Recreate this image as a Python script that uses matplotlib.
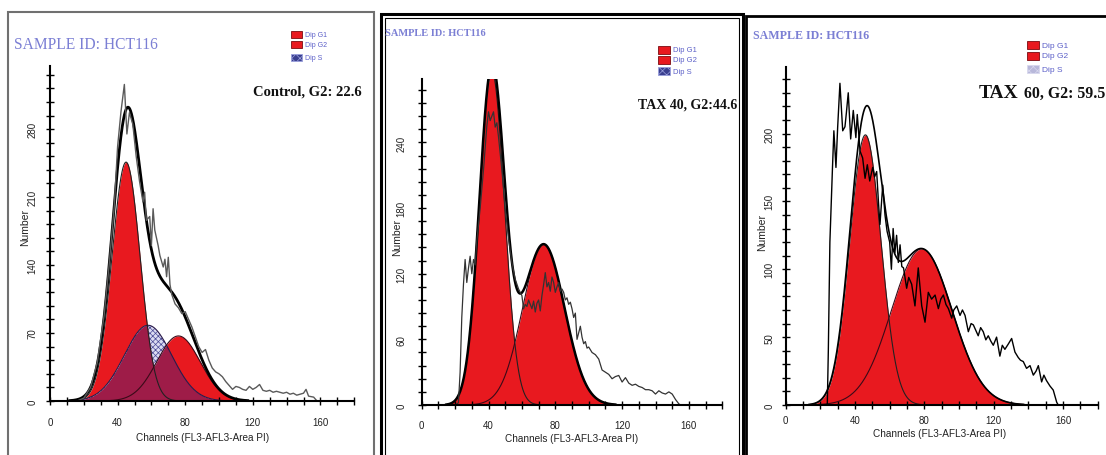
import numpy as np
import matplotlib.pyplot as plt
from matplotlib.patches import Rectangle
from matplotlib.ticker import MultipleLocator

W, H = 1106, 456

sample_id = "SAMPLE ID: HCT116"
legend_labels = ["Dip G1", "Dip G2", "Dip S"]
x_label = "Channels (FL3-AFL3-Area PI)"
y_label = "Number"

# fitted cell-cycle components: (peak channel, peak count, spread in channels)
ctrl_g1 = (45, 246, 8.3)
ctrl_s = (58, 78, 14)
ctrl_g2 = (76, 67, 12.8)
tax40_g1 = (42, 305, 7.5)
tax40_g2 = (73, 147, 12.5)
tax60_g1 = (46, 199, 9)
tax60_g2 = (78.5, 115, 17.5)

# raw PI histograms (channel, count)
ctrl_ch = [16, 20, 24, 28, 32, 35, 38, 40, 42, 44, 45.5, 47, 49, 51, 53, 55, 56, 57, 59, 60,
           61, 62, 64, 65, 67, 68, 69, 70, 71, 72, 74, 76, 78, 80, 82, 84, 86, 88, 90, 92,
           94, 96, 98, 100, 102, 104, 106, 108, 110, 112, 114, 116, 118, 120, 122, 124, 126, 128, 130, 132,
           134, 136, 138, 140, 142, 144, 146, 148, 150, 151.5, 153, 156, 158]
ctrl_n = [0, 3, 14, 40, 88, 140, 200, 262, 298, 326, 275, 297, 285, 252, 226, 205, 215, 186, 190, 160,
          198, 176, 160, 150, 138, 146, 128, 148, 120, 110, 100, 96, 90, 92, 84, 76, 66, 56, 50, 53,
          42, 34, 30, 28, 25, 20, 16, 12, 15, 14, 12, 11, 15, 12, 14, 17, 11, 10, 11, 9,
          10, 9, 8, 9, 7, 8, 6, 7, 8, 12, 5, 4, 0]

tax40_ch = [20, 22, 23, 24, 25, 26, 27, 28, 29, 30, 31, 32, 33, 35, 37, 39, 40, 41, 42, 43,
            44, 45, 46, 48, 50, 52, 54, 56, 58, 60, 61, 62, 63, 64, 65, 66, 67, 68, 69, 70,
            71, 72, 73, 74, 75, 76, 77, 78, 79, 80, 81, 82, 83, 84, 85, 86, 87, 88, 89, 90,
            91, 92, 93, 94, 95, 96, 97, 98, 99, 100, 102, 104, 106, 108, 110, 112, 114, 116, 118, 120,
            122, 124, 126, 128, 130, 132, 134, 136, 138, 140, 142, 144, 146, 148, 150, 152, 154, 155]
tax40_n = [0, 2, 30, 80, 110, 133, 112, 125, 136, 120, 133, 128, 150, 180, 215, 255, 268, 260, 264, 268,
           254, 258, 245, 215, 180, 152, 130, 115, 106, 100, 88, 92, 90, 96, 92, 88, 95, 85, 93, 96,
           86, 100, 110, 121, 108, 112, 104, 117, 112, 103, 108, 112, 104, 106, 103, 96, 98, 92, 94, 88,
           80, 84, 60, 66, 72, 62, 56, 58, 52, 53, 48, 46, 42, 32, 30, 28, 24, 26, 27, 21,
           25, 20, 18, 19, 17, 16, 14, 14, 13, 10, 13, 11, 10, 12, 10, 5, 1, 0]

tax60_ch = [24, 24.6, 25.5, 27, 27.8, 29, 30, 31.3, 32.9, 34.2, 35, 36.1, 37.5, 39, 40.5, 41.3, 42.9, 44.4, 45.8, 47.1,
            48.5, 50.2, 51.3, 52.5, 53.5, 54.4, 56, 57.3, 58.5, 60, 61, 62, 63, 64, 65, 66, 67, 68, 69.8, 71,
            72.7, 74.6, 76.5, 78.5, 80.4, 82.3, 84.2, 86.2, 88.1, 89.5, 91, 92.5, 93.9, 95.8, 97, 98.7, 100.6, 102, 103.5, 105.4,
            107, 108.3, 109.7, 111.1, 112.5, 114, 115.5, 116.9, 118.4, 119.8, 121.7, 123.6, 125, 126.5, 128.5, 130.4, 132.3, 134.2, 135.5, 137.1,
            139, 141, 142.9, 144.5, 145.8, 147.7, 149, 150.5, 152.5, 154.4, 156.4, 157.3]
tax60_n = [0, 40, 120, 175, 202, 175, 205, 237, 202, 205, 215, 230, 196, 217, 197, 214, 187, 182, 167, 177,
           165, 175, 168, 172, 150, 133, 162, 140, 128, 120, 100, 130, 112, 125, 105, 118, 102, 101, 86, 94,
           89, 73, 101, 73, 61, 83, 78, 81, 71, 78, 81, 74, 71, 64, 70, 73, 66, 70, 66, 54,
           60, 59, 55, 51, 57, 54, 48, 51, 47, 44, 50, 36, 44, 41, 45, 49, 39, 35, 33, 32,
           27, 29, 22, 25, 29, 17, 22, 18, 14, 11, 2, 0]

plt.rcParams['hatch.linewidth'] = 0.5

RED = '#e8191f'
MAROON = '#9e1c48'
SERIF = 'Liberation Serif'
SANS = 'Liberation Sans'

fig = plt.figure(figsize=(W / 100, H / 100), dpi=100)
fig.patch.set_facecolor('white')


def fx(px):
    return px / W


def fy(py):
    return 1 - py / H


def gauss(x, comp):
    mu, h, sd = comp
    return h * np.exp(-0.5 * ((x - mu) / sd) ** 2)


def make_axes(x0, x1, ybot, ytop, ymax, ymajor, yminor, xpad, ypad):
    ax = fig.add_axes([fx(x0), fy(ybot), (x1 - x0) / W, (ybot - ytop) / H])
    ax.set_xlim(0, 180)
    ax.set_ylim(0, ymax)
    for side in ['top', 'right']:
        ax.spines[side].set_visible(False)
    for side in ['left', 'bottom']:
        ax.spines[side].set_linewidth(1.5)
        ax.spines[side].set_zorder(6)
    ax.set_xticks([0, 40, 80, 120, 160])
    ax.xaxis.set_minor_locator(MultipleLocator(10))
    ax.yaxis.set_major_locator(MultipleLocator(ymajor))
    ax.yaxis.set_minor_locator(MultipleLocator(yminor))
    ax.tick_params(which='both', direction='inout', length=6, width=1, colors='black',
                   labelcolor='#222222', labelsize=7)
    ax.tick_params(axis='x', pad=xpad)
    ax.tick_params(axis='y', pad=ypad, labelrotation=90)
    for lab in ax.get_xticklabels() + ax.get_yticklabels():
        lab.set_fontfamily(SANS)
    for lab in ax.get_yticklabels():
        lab.set_va('center')
    ax.patch.set_alpha(0)
    return ax


x = np.linspace(8, 172, 1200)


def draw_model(ax, g1, g2, s=None, fit_lw=1.8, raw=None, raw_color='black', raw_lw=0.9):
    y1 = gauss(x, g1)
    y2 = gauss(x, g2)
    ys = gauss(x, s) if s is not None else np.zeros_like(x)
    ax.fill_between(x, 0, y1, color=RED, lw=0, zorder=1)
    ax.fill_between(x, 0, y2, color=RED, lw=0, zorder=1)
    if s is not None:
        ax.fill_between(x, 0, ys, facecolor='#dcdcf2', hatch='xxxxxx', edgecolor='#4a4a96', lw=0, zorder=2)
        ax.fill_between(x, 0, np.minimum(ys, np.maximum(y1, y2)), color=MAROON, lw=0, zorder=2)
        ax.plot(x, ys, color='#2a1a4a', lw=0.8, zorder=3)
    ax.plot(x, y1, color='#222222', lw=0.8, zorder=3)
    ax.plot(x, y2, color='#3a0a18', lw=0.8, zorder=3)
    fit = y1 + y2 + ys
    keep = fit > 0.4
    ax.plot(x[keep], fit[keep], color='black', lw=fit_lw, zorder=4)
    if raw is not None:
        ax.plot(raw[0], raw[1], color=raw_color, lw=raw_lw, zorder=5)


# panel 1 - control
ax1 = make_axes(50, 354.2, 402, 67, 345, 70, 14, 8.5, 6)
draw_model(ax1, ctrl_g1, ctrl_g2, ctrl_s, fit_lw=2.0, raw=(ctrl_ch, ctrl_n), raw_color='#5a5a5a', raw_lw=1.0)

# panel 2 - TAX 40
ax2 = make_axes(421.7, 722.3, 406, 80, 298, 60, 12, 8, 8)
draw_model(ax2, tax40_g1, tax40_g2, fit_lw=1.8, raw=(tax40_ch, tax40_n), raw_color='#333333', raw_lw=0.9)

# panel 3 - TAX 60
ax3 = make_axes(785.7, 1097.6, 406, 68, 249, 50, 10, 4.5, 5)
draw_model(ax3, tax60_g1, tax60_g2, fit_lw=1.2, raw=(tax60_ch, tax60_n), raw_color='black', raw_lw=1.0)

# axis titles
for xc, yc in [(203, 438), (572, 439), (940, 434)]:
    fig.text(fx(xc), fy(yc), x_label, ha='center', va='center', fontsize=7.2,
             fontfamily=SANS, color='#222222')
for xc, yc in [(25, 228), (397, 238), (762, 233)]:
    fig.text(fx(xc), fy(yc), y_label, ha='center', va='center', rotation=90, fontsize=7.5,
             fontfamily=SANS, color='#222222')

# sample id headers
fig.text(fx(14), fy(49), sample_id, fontsize=11.2, fontfamily=SERIF, color='#7b7fd4', va='baseline')
fig.text(fx(385), fy(36), sample_id, fontsize=7.5, fontfamily=SERIF, fontweight='bold',
         color='#7b7fd4', va='baseline')
fig.text(fx(753), fy(39), sample_id, fontsize=8.6, fontfamily=SERIF, fontweight='bold',
         color='#7b7fd4', va='baseline')

# G2 annotations
fig.text(fx(362), fy(96), "Control, G2: 22.6", ha='right', va='baseline', fontsize=10.5,
         fontfamily=SERIF, fontweight='bold', color='#111111')
fig.text(fx(737), fy(109), "TAX 40, G2:44.6", ha='right', va='baseline', fontsize=10,
         fontfamily=SERIF, fontweight='bold', color='#111111')
fig.text(fx(979), fy(98), "TAX", ha='left', va='baseline', fontsize=14,
         fontfamily=SERIF, fontweight='bold', color='#111111')
fig.text(fx(1105), fy(98), " 60, G2: 59.5", ha='right', va='baseline', fontsize=11.4,
         fontfamily=SERIF, fontweight='bold', color='#111111')


# small legends
def legend_block(x0, rows, w, h, fsize, s_face, s_hatch):
    for i, (ytop, lab) in enumerate(zip(rows, legend_labels)):
        if i < 2:
            key = Rectangle((fx(x0), fy(ytop + h)), w / W, h / H, transform=fig.transFigure,
                            facecolor=RED, edgecolor='#7a0a10', lw=0.6)
        else:
            key = Rectangle((fx(x0), fy(ytop + h)), w / W, h / H, transform=fig.transFigure,
                            facecolor=s_face, edgecolor=s_hatch, hatch='xxxx', lw=0.6)
        fig.add_artist(key)
        fig.text(fx(x0 + w + 3), fy(ytop + h / 2), lab, fontsize=fsize, fontfamily=SANS,
                 color='#5b5fc8', va='center', ha='left')


legend_block(291, [32, 42, 55], 11, 7, 5, '#3a3f8f', '#9aa0dd')
legend_block(658, [47, 57, 68], 12, 8, 5.5, '#3a3f8f', '#9aa0dd')
legend_block(1027, [42, 53, 66], 12, 8, 6, '#b8b8da', '#d8d8ee')

# panel frames
fig.add_artist(Rectangle((fx(8), fy(470)), (374 - 8) / W, (470 - 13) / H, transform=fig.transFigure,
                         fill=False, edgecolor='#707070', lw=1.5))
fig.add_artist(Rectangle((fx(381), fy(470)), (743 - 381) / W, (470 - 15) / H, transform=fig.transFigure,
                         fill=False, edgecolor='black', lw=2.2))
fig.add_artist(Rectangle((fx(385), fy(470)), (739 - 385) / W, (470 - 19) / H, transform=fig.transFigure,
                         fill=False, edgecolor='black', lw=0.8))
fig.add_artist(Rectangle((fx(746), fy(470)), (1112 - 746) / W, (470 - 17) / H, transform=fig.transFigure,
                         fill=False, edgecolor='black', lw=2.0))

fig.savefig("out.png", dpi=100, facecolor='white')
